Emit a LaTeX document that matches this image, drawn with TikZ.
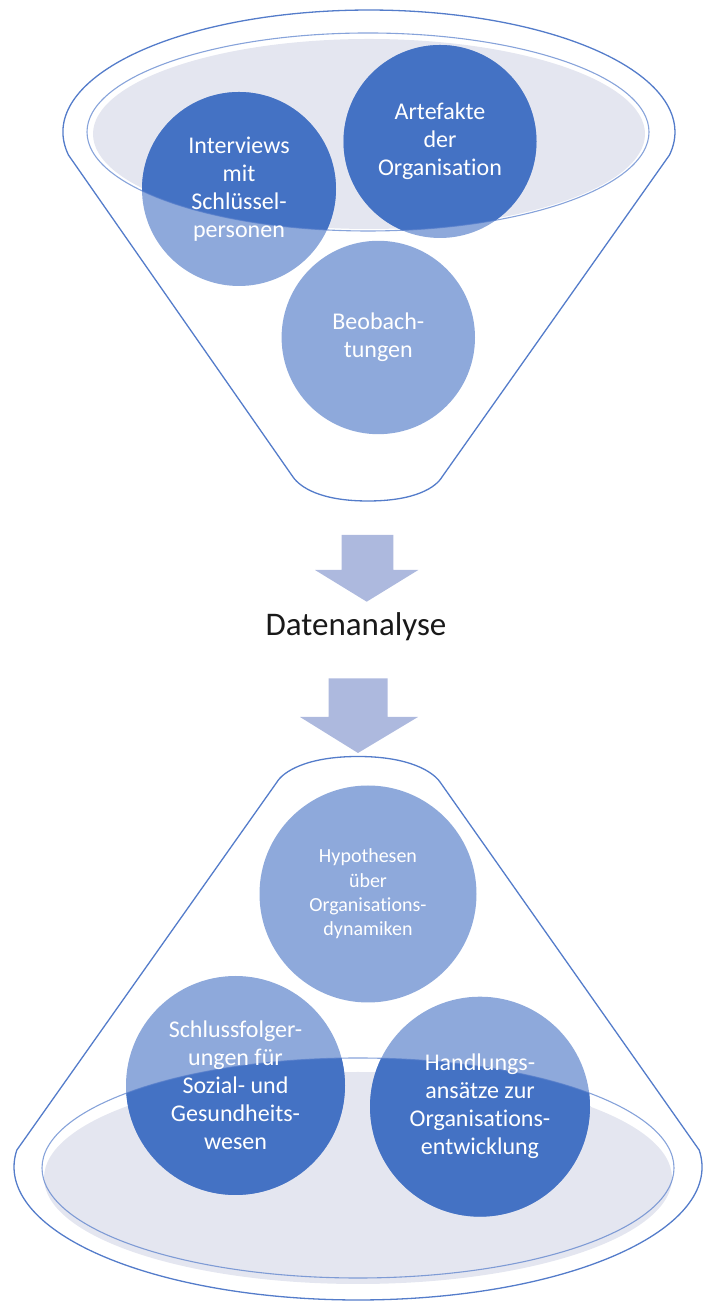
\documentclass[tikz,border=0pt]{standalone}
\usepackage{fontspec}
\setmainfont{Carlito}[Ligatures=NoCommon]
\definecolor{darkblue}{RGB}{68,114,196}
\definecolor{lightblue}{RGB}{142,169,219}
\definecolor{bowlgray}{RGB}{228,230,240}
\definecolor{outlineblue}{RGB}{84,124,202}
\definecolor{arrowblue}{RGB}{173,185,222}
\begin{document}
\begin{tikzpicture}[x=1pt,y=1pt,
  outl/.style={draw=outlineblue,line width=1.3pt},
  bubbletext/.style={circle,inner sep=0pt,text=white,align=center},
  bigtext/.style={bubbletext,font=\fontsize{24}{28}\selectfont},
  smalltext/.style={bubbletext,font=\fontsize{20}{24.4}\selectfont},
  blockarrow/.style={fill=arrowblue,draw=none}]
\useasboundingbox (0,0) rectangle (710,1304);
% centres
\coordinate (cI) at (239,1115);
\coordinate (cA) at (440,1162.5);
\coordinate (cB) at (378.3,966.5);
\coordinate (cH) at (368,410);
\coordinate (cS) at (235.5,218.5);
\coordinate (cD) at (480,197.3);
% ---------- top funnel ----------
\draw[outl] (68.5,1148.9) arc[start angle=190.9,end angle=-10.9,x radius=306,y radius=122]
  -- (442,827) .. controls (436,817) and (416,803) .. (368,803)
  .. controls (320,803) and (300,817) .. (293,827) -- cycle;
\fill[bowlgray] (369,1170) ellipse[x radius=276,y radius=95];
\fill[lightblue] (cI) circle[radius=97];
\fill[lightblue] (cA) circle[radius=96.5];
\fill[lightblue] (cB) circle[radius=96.7];
\begin{scope}
  \clip (368,1172) ellipse[x radius=281,y radius=99];
  \fill[darkblue] (cI) circle[radius=97];
  \fill[darkblue] (cA) circle[radius=96.5];
\end{scope}
\draw[draw=outlineblue,line width=1.1pt,opacity=0.7] (368,1172) ellipse[x radius=281,y radius=99];
\node[bigtext] (tI) at (cI) {Interviews\\mit\\Schlüssel-\\personen};
\node[bigtext] (tA) at (cA) {Artefakte\\der\\Organisation};
\node[bigtext] (tB) at (cB) {Beobach-\\tungen};
% ---------- arrows ----------
\fill[blockarrow] (341.7,769) -- (393.3,769) -- (393.3,734) -- (418.3,734) -- (366.7,702.3)
  -- (315,734) -- (341.7,734) -- cycle;
\node[anchor=base,text=black!90,font=\fontsize{33}{39}\selectfont] (dat) at (356,668) {Datenanalyse};
\fill[blockarrow] (328.5,625.7) -- (387.5,625.7) -- (387.5,587) -- (418,587) -- (358,551)
  -- (300,587) -- (328.5,587) -- cycle;
% ---------- bottom cone ----------
\draw[outl] (358,547.5) .. controls (410,547.5) and (433,532) .. (440,522)
  -- (699.2,153.9) arc[start angle=7.3,end angle=-187.3,x radius=344,y radius=133]
  -- (277,522) .. controls (283,532) and (306,547.5) .. (358,547.5) -- cycle;
\fill[bowlgray] (358,126) ellipse[x radius=314,y radius=106];
\fill[lightblue] (cH) circle[radius=108.5];
\fill[lightblue] (cS) circle[radius=109.5];
\fill[lightblue] (cD) circle[radius=110];
\begin{scope}
  \clip (358,136) ellipse[x radius=316,y radius=110];
  \fill[darkblue] (cS) circle[radius=109.5];
  \fill[darkblue] (cD) circle[radius=110];
\end{scope}
\draw[draw=outlineblue,line width=1.1pt,opacity=0.7] (358,136) ellipse[x radius=316,y radius=110];
\node[smalltext] (tH) at (cH) {Hypothesen\\über\\Organisations-\\dynamiken};
\node[bigtext] (tS) at (cS) {Schlussfolger-\\ungen für\\Sozial- und\\Gesundheits-\\wesen};
\node[bigtext] (tD) at (cD) {Handlungs-\\ansätze zur\\Organisations-\\entwicklung};
\end{tikzpicture}
\end{document}
